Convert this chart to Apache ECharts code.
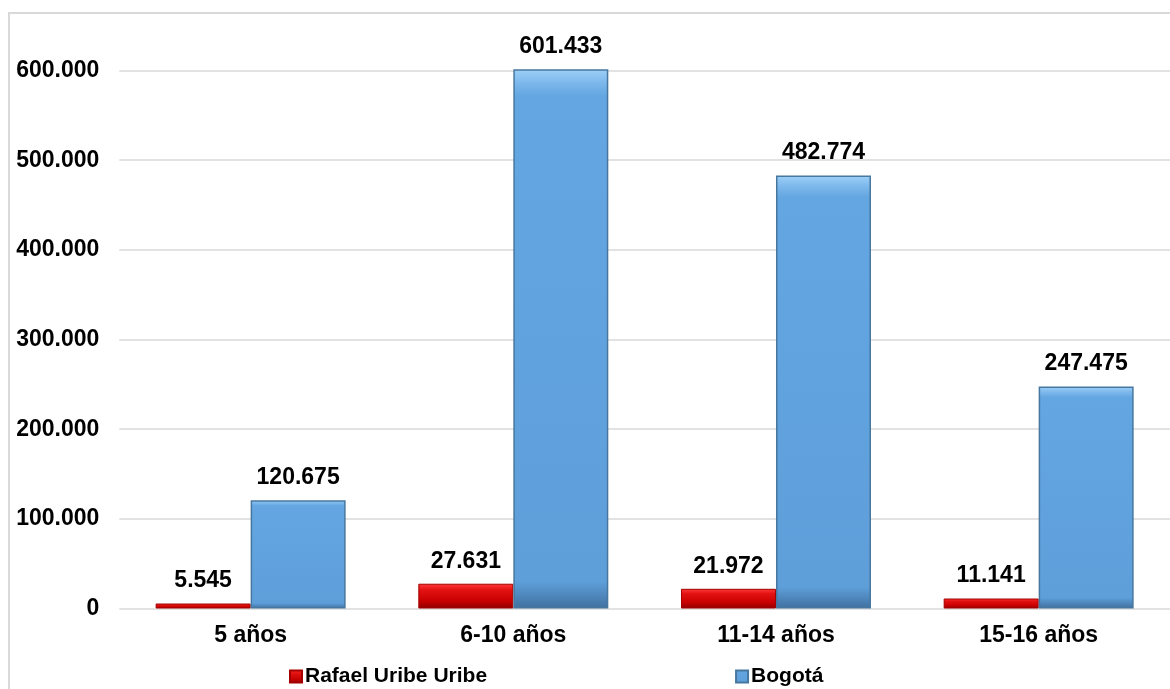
<!DOCTYPE html>
<html>
<head>
<meta charset="utf-8">
<script src="https://cdn.jsdelivr.net/npm/echarts@6/dist/echarts.min.js"></script>
<style>
html,body{margin:0;padding:0;background:#fff;}
#chart{width:1170px;height:689px;}
</style>
</head>
<body>
<div id="chart"></div>
<script>
var categories = ['5 años', '6-10 años', '11-14 años', '15-16 años'];
var seriesNames = ['Rafael Uribe Uribe', 'Bogotá'];
var rafaelUribe = [5545, 27631, 21972, 11141];
var bogota = [120675, 601433, 482774, 247475];
var yTicks = [0, 100000, 200000, 300000, 400000, 500000, 600000];

function fmt(v) {
  return String(Math.round(v)).replace(/\B(?=(\d{3})+(?!\d))/g, '.');
}

var FONT = '"Liberation Sans", Arial, Helvetica, sans-serif';
var FS = 23;
var chart = echarts.init(document.getElementById('chart'));

var labelStyle = {
  show: true,
  position: 'top',
  distance: 11,
  color: '#000',
  fontSize: FS,
  fontWeight: 'bold',
  fontFamily: FONT,
  formatter: function (p) { return fmt(p.value); }
};

chart.setOption({
  animation: false,
  backgroundColor: '#fff',
  graphic: [{
    type: 'rect',
    shape: { x: 9, y: 13, width: 1300, height: 800 },
    style: { fill: 'none', stroke: '#d9d9d9', lineWidth: 2 },
    silent: true,
    z: -1
  }],
  grid: { left: 119.3, right: -11, top: 70.5, bottom: 80.5, containLabel: false },
  legend: {
    left: 289,
    top: 666,
    padding: 0,
    itemWidth: 12,
    itemHeight: 12,
    itemGap: 248,
    icon: 'rect',
    textStyle: { color: '#000', fontSize: 21, fontWeight: 'bold', fontFamily: FONT, padding: [0, 0, 0, -2] },
    data: seriesNames
  },
  xAxis: {
    type: 'category',
    data: categories,
    axisLine: { show: false },
    axisTick: { show: false },
    axisLabel: { color: '#000', fontSize: FS, fontWeight: 'bold', fontFamily: FONT, margin: 16 }
  },
  yAxis: {
    type: 'value',
    min: yTicks[0],
    max: yTicks[yTicks.length - 1],
    interval: yTicks[1] - yTicks[0],
    axisLine: { show: false },
    axisTick: { show: false },
    splitLine: { lineStyle: { color: '#d9d9d9', width: 1.5 } },
    axisLabel: {
      color: '#000', fontSize: FS, fontWeight: 'bold', fontFamily: FONT, margin: 20,
      formatter: function (v) { return fmt(v); }
    }
  },
  series: [
    {
      name: seriesNames[0],
      type: 'bar',
      data: rafaelUribe,
      barWidth: 95,
      barGap: '0%',
      clip: false,
      itemStyle: {
        color: new echarts.graphic.LinearGradient(0, 0, 0, 1, [
          { offset: 0, color: '#ff3b3b' },
          { offset: 0.25, color: '#e41212' },
          { offset: 0.7, color: '#c80000' },
          { offset: 1, color: '#8e0000' }
        ]),
        borderColor: '#a30000',
        borderWidth: 1
      },
      label: labelStyle
    },
    {
      name: seriesNames[1],
      type: 'bar',
      data: bogota,
      barWidth: 95,
      barGap: '0%',
      clip: false,
      itemStyle: {
        color: new echarts.graphic.LinearGradient(0, 0, 0, 1, [
          { offset: 0, color: '#9dd0f7' },
          { offset: 0.025, color: '#7db8ec' },
          { offset: 0.05, color: '#63a6e1' },
          { offset: 0.95, color: '#5e9fda' },
          { offset: 1, color: '#40709f' }
        ]),
        borderColor: '#47779f',
        borderWidth: 1.5
      },
      label: labelStyle
    }
  ]
});
</script>
</body>
</html>
